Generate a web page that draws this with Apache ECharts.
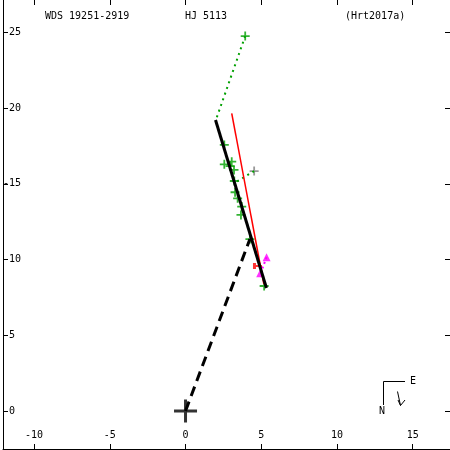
<!DOCTYPE html>
<html><head><meta charset="utf-8">
<script src="https://cdn.jsdelivr.net/npm/echarts@6/dist/echarts.min.js"></script>
<style>html,body{margin:0;padding:0;background:#fff}#c{width:450px;height:450px}</style>
</head><body><div id="c"></div>
<script>
const tickValuesX = [-10, -5, 0, 5, 10, 15];
const tickValuesY = [-25, -20, -15, -10, -5, 0];
const titleTexts = ['WDS 19251-2919', 'HJ 5113', '(Hrt2017a)'];
const primaryStar = [[0, 0]];
const orbitNew = [[1.98, -19.21], [5.34, -8.12]];
const orbitOld = [[3.05, -19.65], [5.17, -8.38]];
const nodeLine = [[0, 0], [4.25, -11.35]];
const greenObs = [[3.94, -24.75], [2.56, -17.56], [2.56, -16.28], [3.05, -16.46], [2.94, -16.17],
  [3.20, -15.91], [3.22, -15.18], [3.27, -14.44], [3.44, -14.04], [3.71, -13.49], [3.66, -12.94],
  [4.25, -11.35], [5.19, -8.25]];
const greyObs = [[4.53, -15.84]];
const magentaObs = [[5.35, -10.15], [4.93, -9.09]];
const redObs = [[4.75, -9.57]];
const ocGreen = [[[3.94, -24.75], [2.05, -19.34]], [[4.53, -15.84], [3.24, -15.05]]];
const ocMagenta = [[[5.35, -10.15], [5.01, -9.24]]];

const FONT = 'DejaVu Sans Mono';
const chart = echarts.init(document.getElementById('c'), null, {renderer: 'canvas'});
const plusPath = 'path://M4,0H6V4H10V6H6V10H4V6H0V4H4Z';
const crossPath = 'path://M10,0H13V10H23V13H13V23H10V13H0V10H10Z';
const redPath = 'path://M0,0H3V2H9V4H3V6H0Z';

const series = [];
ocGreen.forEach(seg => series.push({type: 'line', data: seg, symbol: 'none', silent: true,
  lineStyle: {color: '#00a000', width: 2, type: [2, 4]}}));
ocMagenta.forEach(seg => series.push({type: 'line', data: seg, symbol: 'none', silent: true,
  lineStyle: {color: '#ff00ff', width: 2, type: [2, 3]}}));
series.push({type: 'line', data: orbitOld, symbol: 'none', lineStyle: {color: '#ff0000', width: 1.5}});
series.push({type: 'line', data: nodeLine, symbol: 'none', lineStyle: {color: '#000', width: 3, type: [10, 6]}});
series.push({type: 'line', data: orbitNew, symbol: 'none', lineStyle: {color: '#000', width: 3}});
series.push({type: 'scatter', data: greenObs, symbol: plusPath, symbolSize: 9, itemStyle: {color: '#00a000'}});
series.push({type: 'scatter', data: greyObs, symbol: plusPath, symbolSize: 9, itemStyle: {color: '#808080'}});
series.push({type: 'scatter', data: magentaObs, symbol: 'triangle', symbolSize: 8, itemStyle: {color: '#ff00ff'}});
series.push({type: 'scatter', data: redObs, symbol: redPath, symbolSize: [9, 6], itemStyle: {color: '#ff0000'}});
series.push({type: 'scatter', data: primaryStar, symbol: crossPath, symbolSize: 23, itemStyle: {color: '#000'}});

const tickStyle = {show: true, inside: true, length: 5, lineStyle: {color: '#000', width: 1}};
chart.setOption({
  animation: false,
  grid: {left: 1, right: 0, top: 0, bottom: 1},
  xAxis: [
    {type: 'value', position: 'bottom', min: -12.05, max: 17.46, splitLine: {show: false},
     axisLine: {show: true, onZero: false, lineStyle: {color: '#000', width: 1}},
     axisTick: Object.assign({customValues: tickValuesX}, tickStyle),
     axisLabel: {inside: true, margin: 9, customValues: tickValuesX, color: '#000', fontFamily: FONT, fontSize: 10}},
    {type: 'value', position: 'top', min: -12.05, max: 17.46, splitLine: {show: false},
     axisLine: {show: false, onZero: false}, axisTick: Object.assign({customValues: tickValuesX}, tickStyle),
     axisLabel: {show: false}}
  ],
  yAxis: [
    {type: 'value', position: 'left', inverse: true, min: -27.13, max: 2.51, splitLine: {show: false},
     axisLine: {show: true, onZero: false, lineStyle: {color: '#000', width: 1}},
     axisTick: Object.assign({customValues: tickValuesY}, tickStyle),
     axisLabel: {inside: true, margin: 0, customValues: tickValuesY, color: '#000', fontFamily: FONT, fontSize: 10,
       formatter: v => (v < 0 ? String(v) : '{p|' + v + '}'), rich: {p: {fontFamily: FONT, fontSize: 10, color: '#000', padding: [0, 0, 0, 6]}}}},
    {type: 'value', position: 'right', inverse: true, min: -27.13, max: 2.51, splitLine: {show: false},
     axisLine: {show: false, onZero: false}, axisTick: Object.assign({customValues: tickValuesY}, tickStyle),
     axisLabel: {show: false}}
  ],
  graphic: [
    {type: 'text', left: 45, top: 11, style: {text: titleTexts[0], font: '10px "' + FONT + '"', fill: '#000'}},
    {type: 'text', left: 185, top: 11, style: {text: titleTexts[1], font: '10px "' + FONT + '"', fill: '#000'}},
    {type: 'text', left: 345, top: 11, style: {text: titleTexts[2], font: '10px "' + FONT + '"', fill: '#000'}},
    {type: 'polyline', shape: {points: [[383.5, 405], [383.5, 381.5], [405, 381.5]]}, style: {stroke: '#000', lineWidth: 1, fill: null}},
    {type: 'text', x: 382, y: 411, style: {text: 'N', font: '10px "' + FONT + '"', fill: '#000', align: 'center', verticalAlign: 'middle'}},
    {type: 'text', x: 410, y: 381, style: {text: 'E', font: '10px "' + FONT + '"', fill: '#000', align: 'left', verticalAlign: 'middle'}},
    {type: 'polyline', shape: {points: [[397.5, 391.5], [400.5, 405.5], [405, 400]]}, style: {stroke: '#000', lineWidth: 1, fill: null}},
    {type: 'polyline', shape: {points: [[398, 400], [400.5, 405.5]]}, style: {stroke: '#000', lineWidth: 1, fill: null}}
  ],
  series: series
});
</script></body></html>
